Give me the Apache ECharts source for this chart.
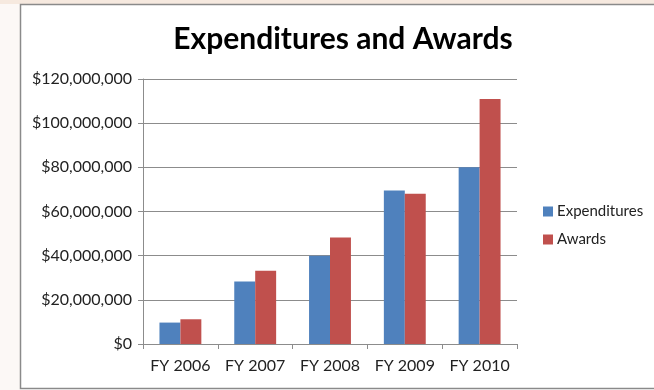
<!DOCTYPE html>
<html>
<head>
<meta charset="utf-8">
<script src="https://cdn.jsdelivr.net/npm/echarts@6/dist/echarts.min.js"></script>
<style>
  html, body { margin: 0; padding: 0; background: #ffffff; }
  #chart { width: 654px; height: 390px; }
</style>
</head>
<body>
<div id="chart"></div>
<script>
// Fiscal years on the category axis
const categories = ['FY 2006', 'FY 2007', 'FY 2008', 'FY 2009', 'FY 2010'];
// Dollar amounts per fiscal year
const expenditures = [9700000, 28300000, 40000000, 69500000, 80000000];
const awards = [11200000, 33200000, 48200000, 68000000, 110900000];
// Value axis range
const yMin = 0;
const yMax = 120000000;
const yStep = 20000000;

const font = 'Lato, "Liberation Sans", sans-serif';

function money(v) {
  return '$' + Math.round(v).toString().replace(/\B(?=(\d{3})+(?!\d))/g, ',');
}

const chart = echarts.init(document.getElementById('chart'), null, { renderer: 'canvas' });
chart.setOption({
  animation: false,
  backgroundColor: '#ffffff',
  graphic: [
    { type: 'rect', silent: true, z: -10,
      shape: { x: 0, y: 0, width: 654, height: 4 },
      style: { fill: '#f6e9df' } },
    { type: 'rect', silent: true, z: -10,
      shape: { x: 0, y: 4, width: 20, height: 386 },
      style: { fill: '#fcf8f6' } },
    { type: 'rect', silent: true, z: -9,
      shape: { x: 20.5, y: 4.5, width: 660, height: 384 },
      style: { fill: '#ffffff', stroke: '#8a8a8a', lineWidth: 1.5 } }
  ],
  title: {
    text: 'Expenditures and Awards',
    left: 338, top: 19, textAlign: 'center',
    textStyle: { fontFamily: font, fontWeight: 'bold', fontSize: 30, color: '#000000' }
  },
  legend: {
    orient: 'vertical',
    left: 538, top: 199,
    itemWidth: 10, itemHeight: 10, itemGap: 13,
    icon: 'rect',
    textStyle: { fontFamily: font, fontSize: 15, color: '#222222', padding: [0, 0, 0, -1] },
    data: ['Expenditures', 'Awards']
  },
  grid: { left: 143, right: 137, top: 79, bottom: 46 },
  xAxis: {
    type: 'category',
    data: categories,
    axisLine: { lineStyle: { color: '#8c8c8c', width: 1 } },
    axisTick: { show: true, alignWithLabel: false, length: 5, lineStyle: { color: '#8c8c8c' } },
    axisLabel: { fontFamily: font, fontSize: 16, color: '#222222', margin: 14, interval: 0, hideOverlap: false }
  },
  yAxis: {
    type: 'value',
    min: yMin, max: yMax, interval: yStep,
    axisLine: { show: true, lineStyle: { color: '#8c8c8c', width: 1 } },
    axisTick: { show: true, length: 5, lineStyle: { color: '#8c8c8c' } },
    axisLabel: { fontFamily: font, fontSize: 16, color: '#222222', margin: 11, formatter: money },
    splitLine: { show: true, lineStyle: { color: '#8c8c8c', width: 1 } }
  },
  series: [
    { name: 'Expenditures', type: 'bar', data: expenditures,
      itemStyle: { color: '#4f81bd' }, barGap: '0%', barCategoryGap: '44%' },
    { name: 'Awards', type: 'bar', data: awards,
      itemStyle: { color: '#c0504d' }, barGap: '0%', barCategoryGap: '44%' }
  ]
});
</script>
</body>
</html>
